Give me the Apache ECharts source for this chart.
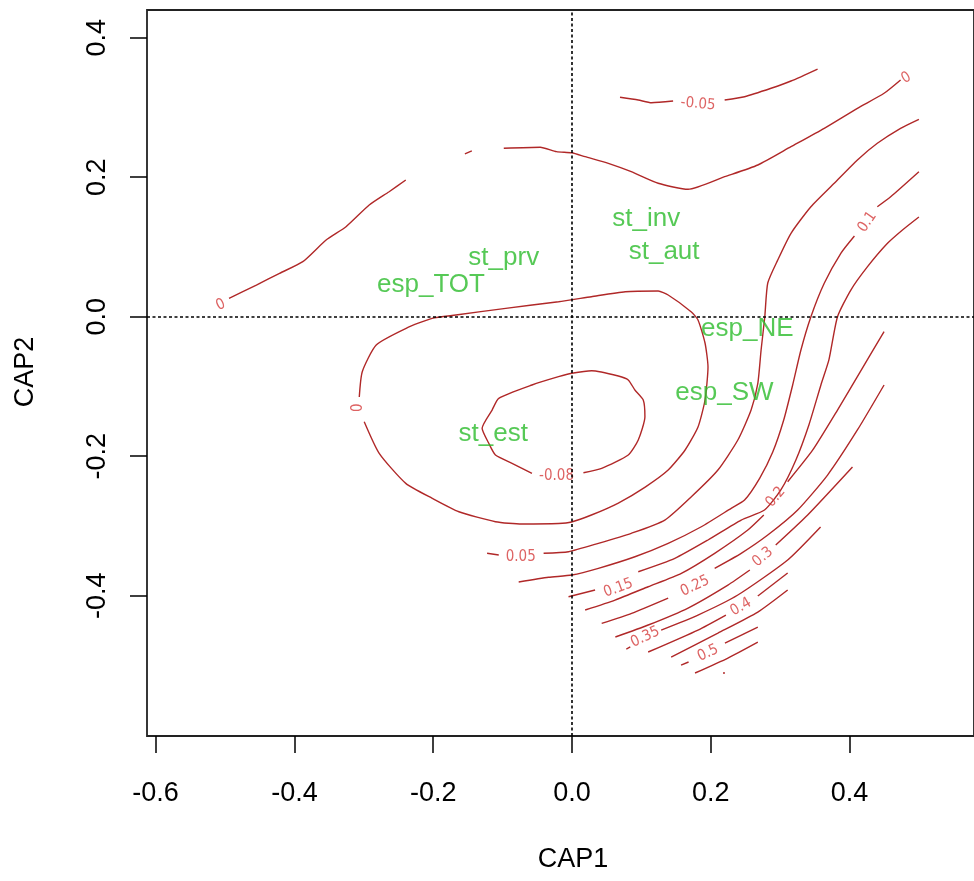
<!DOCTYPE html>
<html><head><meta charset="utf-8">
<script src="https://cdn.jsdelivr.net/npm/echarts@6/dist/echarts.min.js"></script>
<style>html,body{margin:0;padding:0;background:#fff}#c{width:974px;height:881px}</style>
</head><body><div id="c"></div>
<script>
// axis ticks
const xTicks = [-0.6, -0.4, -0.2, 0.0, 0.2, 0.4];
const yTicks = [-0.4, -0.2, 0.0, 0.2, 0.4];
const xRange = [-0.6124, 0.5793];
const yRange = [-0.6011, 0.4397];

// contour segments [CAP1, CAP2]
const c0_left = [[-0.4942,0.0264],[-0.4548,0.0454],[-0.4214,0.0622],[-0.3879,0.0789],[-0.3543,0.1100],[-0.3256,0.1290],[-0.2922,0.1601],[-0.2635,0.1792],[-0.2395,0.1960]];
const c0_bit = [[-0.1543,0.2333],[-0.1443,0.2376]];
const c0_top = [[-0.0983,0.2414],[-0.0457,0.2429],[-0.0223,0.2366],[-0.0003,0.2351],[0.0190,0.2294],[0.0524,0.2199],[0.0854,0.2079],[0.1242,0.1913],[0.1673,0.1827],[0.2200,0.2007],[0.2678,0.2175],[0.3156,0.2437],[0.3635,0.2701],[0.4113,0.2988],[0.4497,0.3203],[0.4735,0.3394]];
const cm05_a = [[0.0692,0.3146],[0.0955,0.3107],[0.1146,0.3068],[0.1457,0.3092]];
const cm05_b = [[0.2200,0.3107],[0.2487,0.3154],[0.2869,0.3275],[0.3156,0.3379],[0.3539,0.3551]];
const c0_loop = [[-0.2994,-0.1505],[-0.2778,-0.1958],[-0.2395,-0.2389],[-0.2013,-0.2604],[-0.1630,-0.2796],[-0.1103,-0.2939],[-0.0721,-0.2972],[-0.0194,-0.2965],[-0.0007,-0.2943],[0.0280,-0.2843],[0.0668,-0.2671],[0.1055,-0.2442],[0.1386,-0.2198],[0.1630,-0.1911],[0.1816,-0.1581],[0.1917,-0.1194],[0.1960,-0.0721],[0.1917,-0.0377],[0.1816,-0.0047],[0.1716,0.0072],[0.1386,0.0311],[0.1242,0.0368],[0.0768,0.0358],[0.0280,0.0287],[-0.0194,0.0215],[-0.0955,0.0120],[-0.1673,0.0024],[-0.2017,-0.0023],[-0.2390,-0.0166],[-0.2821,-0.0406],[-0.3022,-0.0789],[-0.3065,-0.1151]];
const cm08_loop = [[0.0165,-0.2237],[0.0428,-0.2173],[0.0811,-0.1983],[0.0955,-0.1768],[0.1051,-0.1434],[0.1027,-0.1194],[0.0907,-0.1051],[0.0811,-0.0907],[0.0668,-0.0850],[0.0284,-0.0774],[-0.0003,-0.0811],[-0.0194,-0.0860],[-0.0577,-0.0979],[-0.1055,-0.1170],[-0.1151,-0.1338],[-0.1295,-0.1600],[-0.1199,-0.1815],[-0.1103,-0.1983],[-0.0864,-0.2102],[-0.0577,-0.2245]];
const c05_a = [[-0.1223,-0.3392],[-0.1055,-0.3416]];
const c05_b = [[-0.0409,-0.3392],[-0.0050,-0.3369],[0.0380,-0.3249],[0.0854,-0.3105],[0.1338,-0.2915],[0.1720,-0.2581],[0.2103,-0.2198],[0.2390,-0.1768],[0.2581,-0.1338],[0.2678,-0.0955],[0.2725,-0.0477],[0.2778,-0.0004],[0.2821,0.0483],[0.2965,0.0813],[0.3156,0.1196],[0.3443,0.1577],[0.3779,0.1913],[0.4113,0.2247],[0.4400,0.2486],[0.4735,0.2701],[0.4999,0.2830]];
const c10_a = [[-0.0768,-0.3804],[-0.0337,-0.3736],[-0.0003,-0.3703],[0.0380,-0.3607],[0.0907,-0.3441],[0.1386,-0.3249],[0.1864,-0.3011],[0.2294,-0.2747],[0.2487,-0.2628],[0.2706,-0.2313],[0.2893,-0.1940],[0.3051,-0.1481],[0.3180,-0.0979],[0.3299,-0.0477],[0.3443,0.0],[0.3635,0.0479],[0.3874,0.0909],[0.4070,0.1157]];
const c10_b = [[0.4400,0.1577],[0.4592,0.1720],[0.4999,0.2079]];
const c15_a = [[-0.0050,-0.4014],[0.0333,-0.3918]];
const c15_b = [[0.0955,-0.3656],[0.1482,-0.3464],[0.1960,-0.3201],[0.2438,-0.2915],[0.2774,-0.2772],[0.3012,-0.2480],[0.3228,-0.2050],[0.3415,-0.1548],[0.3588,-0.0975],[0.3703,-0.0616],[0.3825,-0.0004],[0.4016,0.0379],[0.4256,0.0714],[0.4543,0.1049],[0.4758,0.1240],[0.4999,0.1430]];
const c20_a = [[0.0190,-0.4205],[0.0620,-0.4062],[0.1098,-0.3871],[0.1576,-0.3679],[0.2056,-0.3392],[0.2534,-0.3058],[0.2764,-0.2843]];
const c20_b = [[0.3108,-0.2366],[0.3467,-0.1914],[0.3826,-0.1338],[0.4185,-0.0736],[0.4497,-0.0215]];
const c25_a = [[0.0428,-0.4396],[0.0859,-0.4252],[0.1386,-0.4033]];
const c25_b = [[0.2056,-0.3607],[0.2438,-0.3392],[0.2821,-0.3130],[0.3252,-0.2771],[0.3683,-0.2270],[0.4113,-0.1624],[0.4497,-0.0979]];
const c30_a = [[0.0625,-0.4592],[0.1098,-0.4420],[0.1673,-0.4176],[0.2247,-0.3847],[0.2563,-0.3631]];
const c30_b = [[0.2936,-0.3273],[0.3396,-0.2843],[0.4042,-0.2155]];
const c35_a = [[0.0783,-0.4764],[0.0840,-0.4735]];
const c35_b = [[0.1285,-0.4492],[0.1816,-0.4277],[0.2390,-0.3990],[0.3108,-0.3488],[0.3582,-0.3015]];
const c40_a = [[0.1098,-0.4807],[0.1816,-0.4492],[0.2218,-0.4277]];
const c40_b = [[0.2678,-0.4004],[0.3108,-0.3675]];
const c45_a = [[0.1429,-0.4879],[0.2103,-0.4535],[0.2678,-0.4234],[0.3108,-0.3918]];
const c50_a = [[0.1572,-0.4994],[0.1680,-0.4950]];
const c50_b = [[0.2204,-0.4678],[0.2678,-0.4449]];
const c55_a = [[0.1773,-0.5108],[0.2247,-0.4893],[0.2678,-0.4664]];
const c60_a = [[0.2176,-0.5108],[0.2204,-0.5108]];
const contourSegments = [c0_left, c0_bit, c0_top, cm05_a, cm05_b, c0_loop, cm08_loop, c05_a, c05_b, c10_a, c10_b, c15_a, c15_b, c20_a, c20_b, c25_a, c25_b, c30_a, c30_b, c35_a, c35_b, c40_a, c40_b, c45_a, c50_a, c50_b, c55_a, c60_a];

// contour level labels
const levelText = ['0', '0', '-0.05', '0', '-0.08', '0.05', '0.1', '0.15', '0.2', '0.25', '0.3', '0.35', '0.4', '0.5'];
const levelPos = [[-0.5061,0.0168],[0.4817,0.3422],[0.1816,0.3049],[-0.3075,-0.1305],[-0.0223,-0.2284],[-0.0739,-0.3445],[0.4257,0.1358],[0.0668,-0.3890],[0.2936,-0.2585],[0.1773,-0.3861],[0.2750,-0.3445],[0.1055,-0.4592],[0.2434,-0.4162],[0.1960,-0.4822]];
const levelRot = [25, 30, -5, 90, 0, 0, 55, 20, 50, 25, 40, 25, 30, 25];

// species / site labels
const pointNames = ['st_inv', 'st_aut', 'st_prv', 'esp_TOT', 'esp_NE', 'esp_SW', 'st_est'];
const pointPos = [[0.1070,0.1401],[0.1328,0.0929],[-0.0983,0.0842],[-0.2032,0.0455],[0.2527,-0.0176],[0.2197,-0.1094],[-0.1134,-0.1682]];

const RED = '#b02828';
const GREEN = '#2cbc2c';
const FONT = '"Liberation Sans", Arial, sans-serif';
const NARROW = '"Liberation Sans Narrow", "DejaVu Sans Condensed", "Liberation Sans", sans-serif';

const series = [];
contourSegments.forEach((seg, i) => {
  series.push({
    type: 'line', data: seg, showSymbol: false, symbol: 'none', silent: true, smooth: 0.2,
    lineStyle: { color: RED, width: 1.4 }, z: 3,
    markLine: i === 0 ? {
      silent: true, symbol: 'none', label: { show: false },
      lineStyle: { color: '#000', type: [3, 2.5], width: 1.6 },
      data: [{ xAxis: 0 }, { yAxis: 0 }]
    } : undefined
  });
});
series.push({
  type: 'scatter', symbolSize: 0, silent: true, z: 4,
  data: levelPos.map((p, i) => ({ value: p, name: levelText[i], label: { rotate: levelRot[i] } })),
  label: { show: true, position: 'inside', formatter: p => p.name, color: '#d43c3c', fontSize: 15, fontFamily: NARROW }
});
series.push({
  type: 'scatter', symbolSize: 0, silent: true, z: 5,
  data: pointPos.map((p, i) => ({ value: p, name: pointNames[i] })),
  label: { show: true, position: 'inside', formatter: p => p.name, color: GREEN, fontSize: 26, fontFamily: FONT }
});

const chart = echarts.init(document.getElementById('c'), null, { renderer: 'canvas' });
chart.setOption({
  animation: false,
  backgroundColor: '#fff',
  grid: { left: 147, top: 10, width: 830, height: 726, show: true, borderColor: '#222', borderWidth: 1.8, backgroundColor: 'transparent' },
  xAxis: {
    type: 'value', min: xRange[0], max: xRange[1],
    splitLine: { show: false },
    axisLine: { show: false, onZero: false },
    axisTick: { show: true, customValues: xTicks, length: 17, lineStyle: { color: '#000', width: 1.5 } },
    axisLabel: { show: true, customValues: xTicks, formatter: v => v.toFixed(1), color: '#000', fontSize: 27, fontFamily: FONT, margin: 44 }
  },
  yAxis: {
    type: 'value', min: yRange[0], max: yRange[1],
    splitLine: { show: false },
    axisLine: { show: false, onZero: false },
    axisTick: { show: true, customValues: yTicks, length: 17, lineStyle: { color: '#000', width: 1.5 } },
    axisLabel: { show: true, customValues: yTicks, formatter: v => v.toFixed(1), rotate: 90, color: '#000', fontSize: 27, fontFamily: FONT, margin: 36 }
  },
  graphic: [
    { type: 'text', x: 573, y: 860, style: { text: 'CAP1', font: '27px ' + FONT, fill: '#000', align: 'center', verticalAlign: 'middle' } },
    { type: 'text', rotation: Math.PI / 2, x: 26, y: 372, style: { text: 'CAP2', font: '27px ' + FONT, fill: '#000', align: 'center', verticalAlign: 'middle' } }
  ],
  series: series
});
</script></body></html>
